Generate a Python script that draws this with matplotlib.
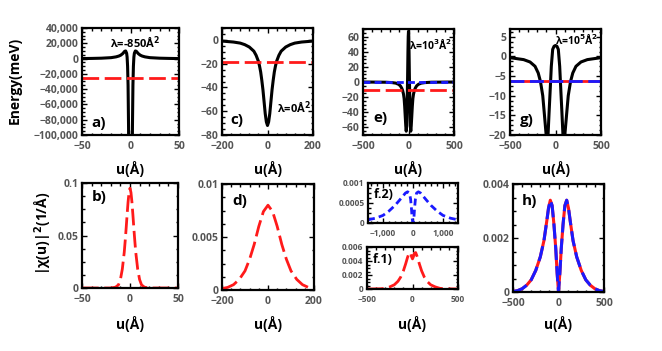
import matplotlib
matplotlib.use("Agg")
import matplotlib.pyplot as plt
from matplotlib.ticker import FuncFormatter, AutoMinorLocator, FixedLocator

plt.rcParams['font.family'] = ['Open Sans', 'DejaVu Sans']
plt.rcParams['font.weight'] = 'bold'

# ---- data ----
# a) lambda = -850
u_a = [-50, -40, -30, -20, -15, -12, -10, -8, -7, -6, -5, -4, -3.5, -3, -2.5, -2, -1.5, -0.5,
       0.5, 1.5, 2, 2.5, 3, 3.5, 4, 5, 6, 7, 8, 10, 12, 15, 20, 30, 40, 50]
V_a = [0, 200, 500, 1200, 2200, 3300, 4500, 6500, 8000, 9500, 10000, 7000, 2000, -10000, -35000,
       -90000, -200000, -300000,
       -300000, -200000, -90000, -35000, -10000, 2000, 7000, 10000, 9500, 8000, 6500, 4500, 3300,
       2200, 1200, 500, 200, 0]
E_a = -26000

# c) lambda = 0
u_c = [-200, -150, -120, -100, -80, -60, -50, -40, -35, -30, -25, -20, -15, -10, -5, 0,
       5, 10, 15, 20, 25, 30, 35, 40, 50, 60, 80, 100, 120, 150, 200]
V_c = [-1.0, -1.8, -2.7, -4, -6, -9.5, -13, -18, -22, -27, -34, -42, -52, -62, -69, -72,
       -69, -62, -52, -42, -34, -27, -22, -18, -13, -9.5, -6, -4, -2.7, -1.8, -1.0]
E_c = -19

# e) lambda = 10^3
u_e = [-500, -250, -180, -140, -110, -90, -75, -65, -55, -48, -42, -36, -30, -25, -20, -15, -10,
       -6, -3, 0, 3, 6, 10, 15, 20, 25, 30, 36, 42, 48, 55, 65, 75, 90, 110, 140, 180, 250, 500]
V_e = [0, -0.3, -0.8, -1.5, -3, -5, -8, -11, -16, -22, -32, -45, -58, -65, -58, -30, 5,
       40, 60, 67, 60, 40, 5, -30, -58, -65, -58, -45, -32, -22, -16, -11, -8, -5, -3, -1.5,
       -0.8, -0.3, 0]
E_e_red = -11
E_e_blue = -0.3

# g) lambda = 10^5
u_g = [-500, -350, -280, -225, -190, -165, -140, -123, -104, -93, -82, -70, -60, -46, -31, -16, 0,
       16, 31, 46, 60, 70, 82, 93, 104, 123, 140, 165, 190, 225, 280, 350, 500]
V_g = [-0.3, -0.8, -1.4, -2.5, -4.2, -6.4, -10, -14.5, -19.6, -24, -20, -14, -9.3, -2.5, 1.8, 2.6, 2.8,
       2.6, 1.8, -2.5, -9.3, -14, -20, -24, -19.6, -14.5, -10, -6.4, -4.2, -2.5, -1.4, -0.8, -0.3]
E_g = -6.2

# b) density, lambda = -850
u_b = [-50, -20, -15, -12, -10, -8, -6, -5, -4, -3, -2, -1, 0, 1, 2, 3, 4, 5, 6, 8, 10, 12, 15, 20, 50]
P_b = [0, 0, 0.0008, 0.003, 0.008, 0.018, 0.034, 0.045, 0.057, 0.07, 0.082, 0.091, 0.095,
       0.091, 0.082, 0.07, 0.057, 0.045, 0.034, 0.018, 0.008, 0.003, 0.0008, 0, 0]

# d) density, lambda = 0
u_d = [-200, -175, -150, -125, -100, -80, -60, -40, -20, 0, 20, 40, 60, 80, 100, 125, 150, 175, 200]
P_d = [0.00013, 0.00025, 0.0005, 0.001, 0.0018, 0.0029, 0.0043, 0.006, 0.0074, 0.008,
       0.0074, 0.006, 0.0043, 0.0029, 0.0018, 0.001, 0.0005, 0.00025, 0.00013]

# f.2) density, lambda = 10^3, upper state
u_f2 = [-1500, -1250, -1000, -800, -600, -450, -350, -250, -180, -120, -80, -50, -30, 0,
        30, 50, 80, 120, 180, 250, 350, 450, 600, 800, 1000, 1250, 1500]
P_f2 = [0.00008, 0.00012, 0.00019, 0.0003, 0.00044, 0.00057, 0.00066, 0.00075, 0.00078, 0.00075,
        0.0006, 0.00035, 0.00012, 0,
        0.00012, 0.00035, 0.0006, 0.00075, 0.00078, 0.00075, 0.00066, 0.00057, 0.00044, 0.0003,
        0.00019, 0.00012, 0.00008]

# f.1) density, lambda = 10^3, lower state
u_f1 = [-500, -350, -300, -250, -200, -160, -130, -100, -75, -55, -35, -20, -10, 0,
        10, 20, 35, 55, 75, 100, 130, 160, 200, 250, 300, 350, 500]
P_f1 = [0, 0.00003, 0.0001, 0.0003, 0.0006, 0.0011, 0.0017, 0.0026, 0.0036, 0.0045, 0.0052,
        0.0051, 0.0046, 0.0043,
        0.0046, 0.0051, 0.0052, 0.0045, 0.0036, 0.0026, 0.0017, 0.0011, 0.0006, 0.0003, 0.0001,
        0.00003, 0]

# h) density, lambda = 10^5
u_h = [-500, -450, -400, -350, -300, -250, -200, -160, -130, -110, -90, -70, -50, -30, -15, 0,
       15, 30, 50, 70, 90, 110, 130, 160, 200, 250, 300, 350, 400, 450, 500]
P_h = [0.00002, 0.00005, 0.00012, 0.00025, 0.00045, 0.0008, 0.0013, 0.0019, 0.0026, 0.0031,
       0.0034, 0.0032, 0.0025, 0.0016, 0.0007, 0,
       0.0007, 0.0016, 0.0025, 0.0032, 0.0034, 0.0031, 0.0026, 0.0019, 0.0013, 0.0008, 0.00045,
       0.00025, 0.00012, 0.00005, 0.00002]

W, H = 662, 351
fig = plt.figure(figsize=(W / 100, H / 100), dpi=100)

RED = '#ff1a1a'
BLUE = '#1a1aff'
TICKC = '#555555'


def fmt(v, pos):
    if abs(v) >= 1000:
        s = '{:,.0f}'.format(v)
    else:
        s = '{:g}'.format(v)
    return s.replace('-', '\u2212')


def make_ax(x0, y0, x1, y1, xlim, ylim, xticks, yticks, fs=7.5):
    ax = fig.add_axes([x0 / W, 1 - y1 / H, (x1 - x0) / W, (y1 - y0) / H])
    ax.set_xlim(xlim)
    ax.set_ylim(ylim)
    ax.xaxis.set_major_locator(FixedLocator(xticks))
    ax.yaxis.set_major_locator(FixedLocator(yticks))
    ax.xaxis.set_minor_locator(AutoMinorLocator(5))
    ax.yaxis.set_minor_locator(AutoMinorLocator(4))
    ax.xaxis.set_major_formatter(FuncFormatter(fmt))
    ax.yaxis.set_major_formatter(FuncFormatter(fmt))
    ax.tick_params(which='both', direction='in', top=True, right=True, colors='black',
                   labelcolor=TICKC, labelsize=fs, width=1)
    ax.tick_params(which='major', length=3.5)
    ax.tick_params(axis='x', which='major', pad=4.5)
    ax.tick_params(axis='y', which='major', pad=2.5)
    ax.tick_params(which='minor', length=1.8)
    for lab in ax.get_xticklabels() + ax.get_yticklabels():
        lab.set_fontweight('bold')
    for sp in ax.spines.values():
        sp.set_linewidth(1.6)
    return ax


def letter(ax, s, x, y, fs=11):
    ax.text(x, y, s, transform=ax.transAxes, fontsize=fs, fontweight='bold', ha='left', va='center')


# a)
ax = make_ax(82, 28, 179, 135, (-50, 50), (-100000, 40000), [-50, 0, 50],
             [-100000, -80000, -60000, -40000, -20000, 0, 20000, 40000])
ax.plot(u_a, V_a, color='black', lw=2.2)
ax.axhline(E_a, color=RED, lw=2, dashes=(6, 2))
ax.text(0.55, 0.86, 'λ=-850Å$^2$', transform=ax.transAxes, fontsize=8, fontweight='bold', ha='center', va='center')
letter(ax, 'a)', 0.1, 0.11)

# c)
ax = make_ax(222, 28, 313, 135, (-200, 200), (-80, 10), [-200, 0, 200], [-80, -60, -40, -20, 0])
ax.plot(u_c, V_c, color='black', lw=2.2)
ax.axhline(E_c, color=RED, lw=2, dashes=(6, 2))
ax.text(0.79, 0.25, 'λ=0Å$^2$', transform=ax.transAxes, fontsize=8, fontweight='bold', ha='center', va='center')
letter(ax, 'c)', 0.09, 0.14)

# e)
ax = make_ax(363, 29, 454, 135, (-500, 500), (-70, 70), [-500, 0, 500],
             [-60, -40, -20, 0, 20, 40, 60])
ax.plot(u_e, V_e, color='black', lw=2.2)
ax.axhline(E_e_blue, color=BLUE, lw=2, dashes=(2.5, 1.5))
ax.axhline(E_e_red, color=RED, lw=2, dashes=(6, 2))
ax.text(0.74, 0.85, 'λ=10$^3$Å$^2$', transform=ax.transAxes, fontsize=7.5, fontweight='bold', ha='center', va='center')
letter(ax, 'e)', 0.11, 0.16)

# g)
ax = make_ax(510, 29, 601, 135, (-500, 500), (-20, 7), [-500, 0, 500], [-20, -15, -10, -5, 0, 5])
ax.plot(u_g, V_g, color='black', lw=2.2)
ax.axhline(E_g, color=RED, lw=2)
ax.axhline(E_g, color=BLUE, lw=2, dashes=(5, 2))
ax.text(0.73, 0.9, 'λ=10$^5$Å$^2$', transform=ax.transAxes, fontsize=7.5, fontweight='bold', ha='center', va='center')
letter(ax, 'g)', 0.11, 0.14)

# b)
ax = make_ax(82, 183, 178, 288, (-50, 50), (0, 0.1), [-50, 0, 50], [0, 0.05, 0.1])
ax.plot(u_b, P_b, color=RED, lw=2, dashes=(6, 2))
letter(ax, 'b)', 0.1, 0.87)

# d)
ax = make_ax(222, 184, 314, 290, (-200, 200), (0, 0.01), [-200, 0, 200], [0, 0.005, 0.01])
ax.plot(u_d, P_d, color=RED, lw=2, dashes=(6, 2))
letter(ax, 'd)', 0.11, 0.84)

# f.2)
ax = make_ax(368, 183, 458, 223, (-1500, 1500), (0, 0.001), [-1000, 0, 1000], [0, 0.0005, 0.001], fs=6)
ax.plot(u_f2, P_f2, color=BLUE, lw=2, dashes=(2.5, 1.5))
letter(ax, 'f.2)', 0.06, 0.7, fs=9)

# f.1)
ax = make_ax(367, 247, 458, 289, (-500, 500), (0, 0.006), [-500, 0, 500], [0, 0.002, 0.004, 0.006], fs=6)
ax.plot(u_f1, P_f1, color=RED, lw=2, dashes=(6, 2))
letter(ax, 'f.1)', 0.06, 0.71, fs=9)

# h)
ax = make_ax(513, 184, 604, 292, (-500, 500), (0, 0.004), [-500, 0, 500], [0, 0.002, 0.004])
ax.plot(u_h, P_h, color=RED, lw=2.2)
ax.plot(u_h, P_h, color=BLUE, lw=2.2, dashes=(5, 2))
letter(ax, 'h)', 0.1, 0.84)

# axis titles
for xc in [130, 268, 408, 556]:
    fig.text(xc / W, 1 - 169 / H, 'u(Å)', fontsize=10, fontweight='bold', ha='center', va='center')
for xc in [130, 268, 412, 558]:
    fig.text(xc / W, 1 - 324 / H, 'u(Å)', fontsize=10, fontweight='bold', ha='center', va='center')
fig.text(15 / W, 1 - 80 / H, 'Energy(meV)', fontsize=10, fontweight='bold', rotation=90, ha='center', va='center')
fig.text(43 / W, 1 - 233 / H, '|χ(u)|$^2$(1/Å)', fontsize=10, fontweight='bold', rotation=90, ha='center', va='center')

fig.savefig('out.png', dpi=100)
